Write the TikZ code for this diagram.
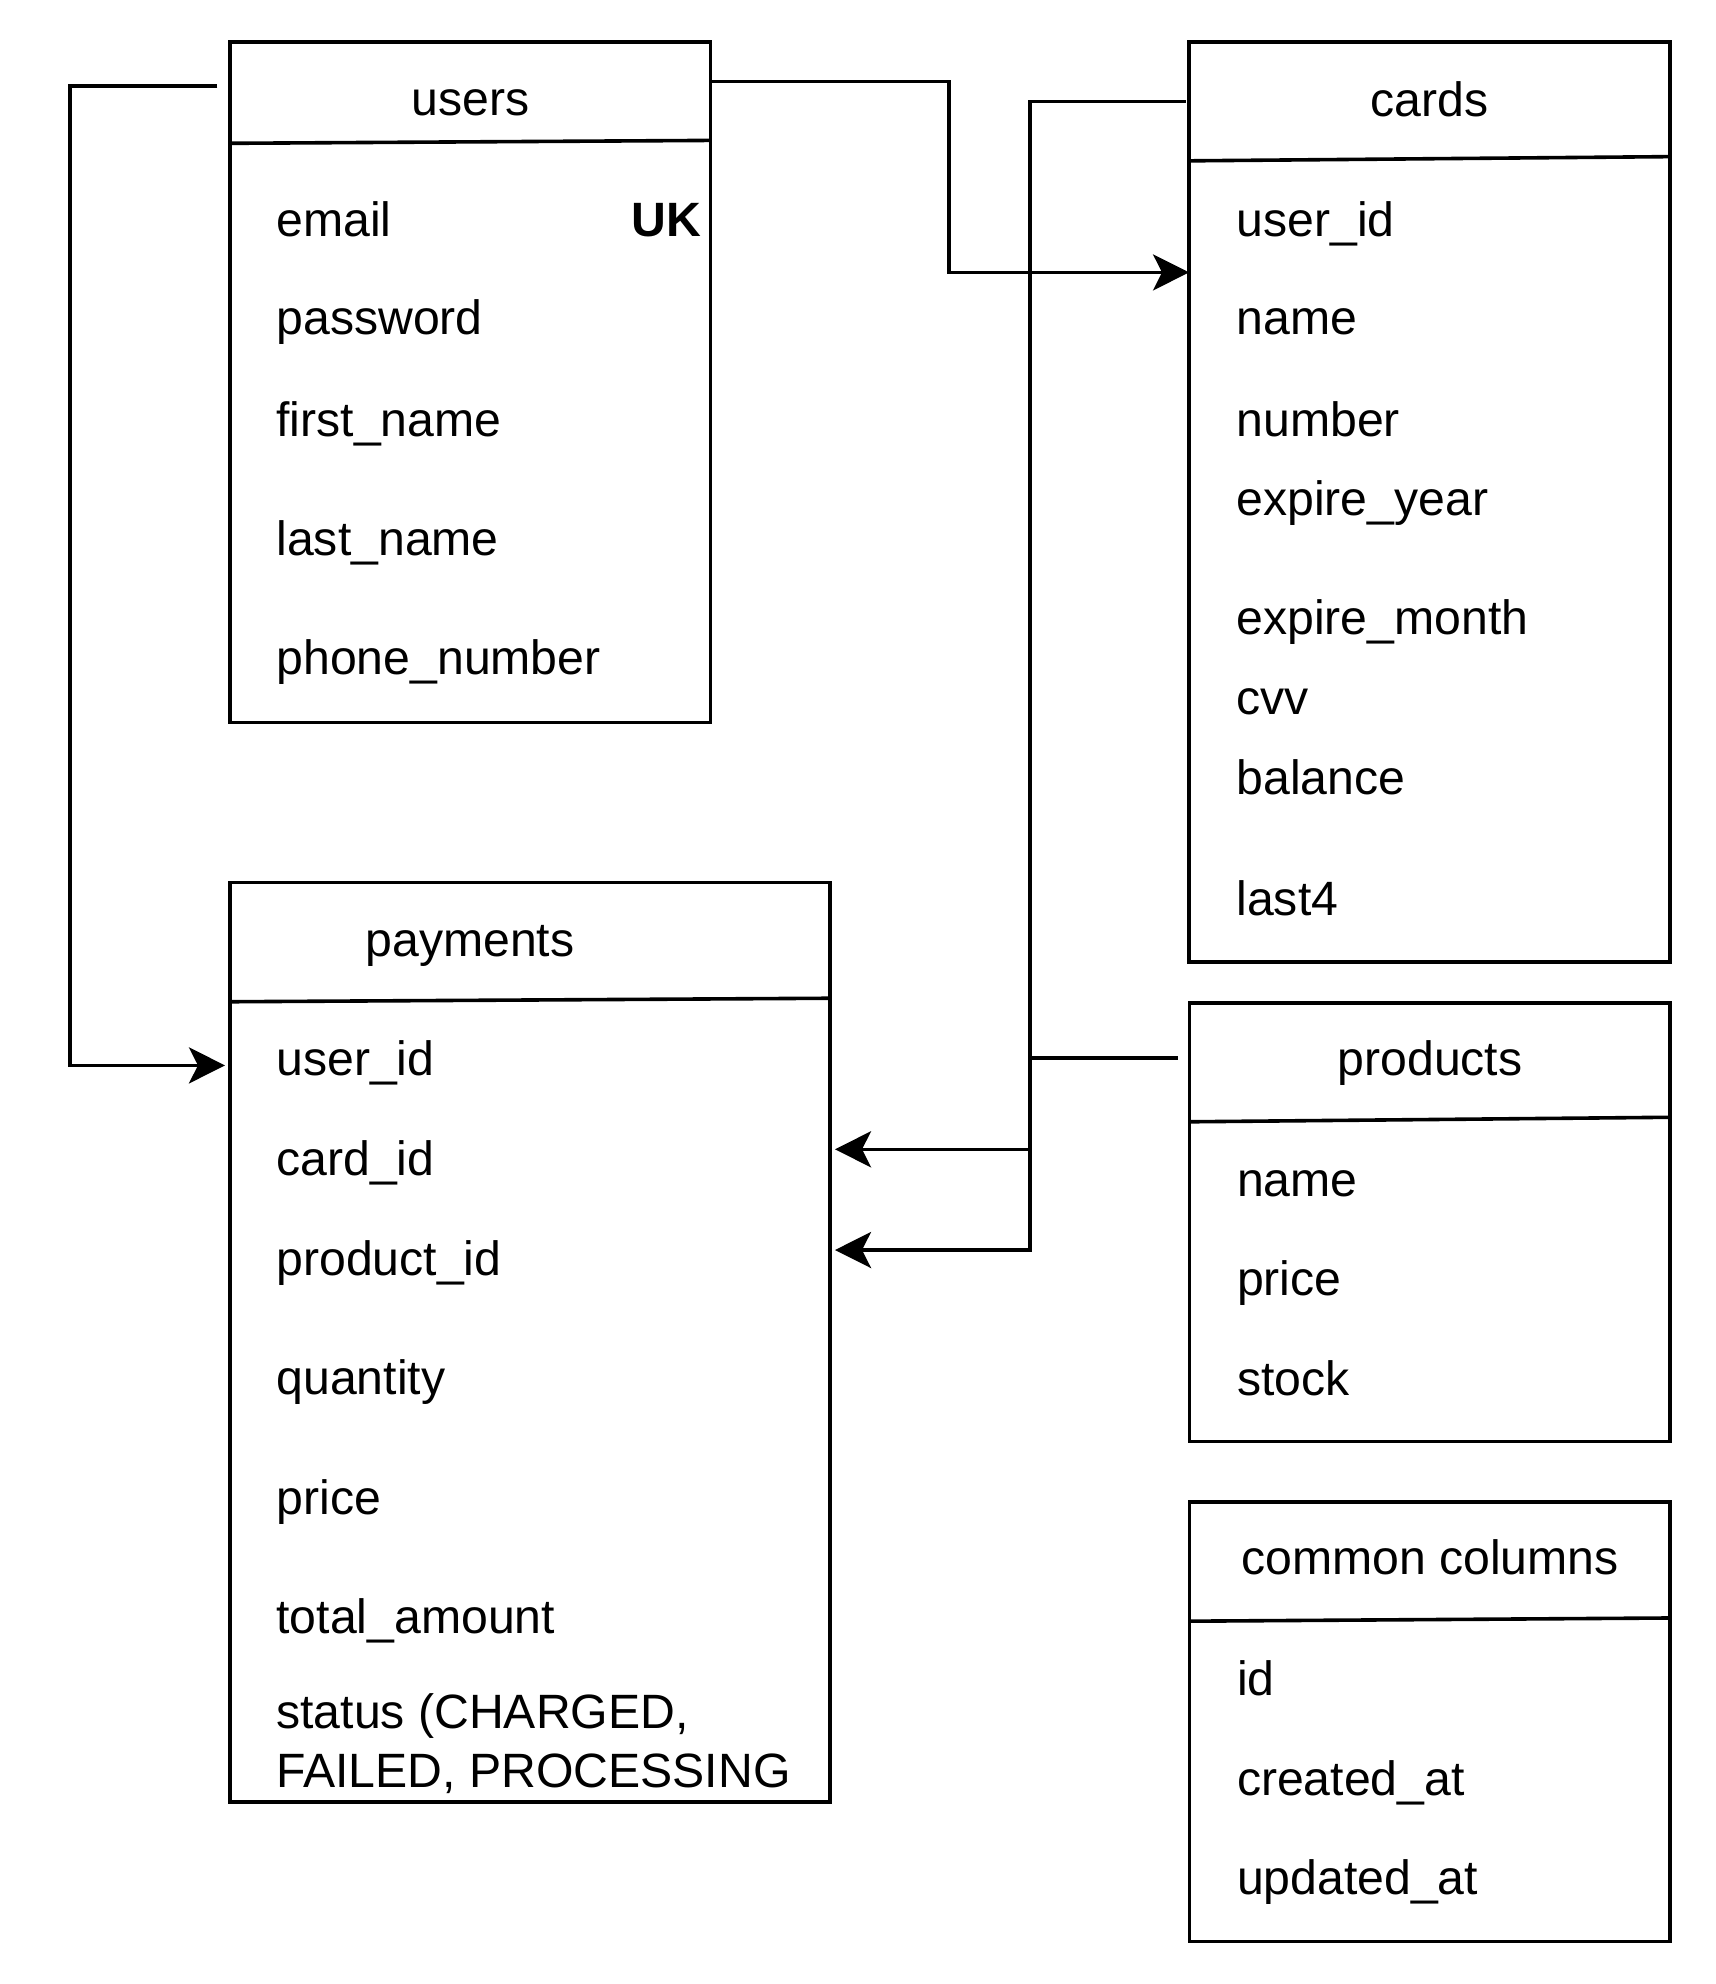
\documentclass[tikz,border=0pt]{standalone}
\usepackage{fontspec}
\setmainfont{Liberation Sans}
\usetikzlibrary{arrows.meta,calc}
\begin{document}
\begin{tikzpicture}[x=0.01cm,y=-0.01cm,
  tbl/.style={draw, rectangle, line width=0.036cm, inner sep=0pt, outer sep=0pt},
  fld/.style={anchor=base west, inner sep=0pt, outer sep=0pt, font=\fontsize{13.7}{16}\selectfont},
  ttl/.style={anchor=base, inner sep=0pt, outer sep=0pt, font=\fontsize{13.7}{16}\selectfont},
  hline/.style={line width=0.036cm},
  conn/.style={line width=0.036cm},
  arr/.style={conn, -{Stealth[length=0.36cm,width=0.36cm,inset=0.09cm]}}]
\useasboundingbox (0,0) rectangle (1716,1984);

% ---------- tables ----------
\node[tbl, minimum width=4.799cm, minimum height=6.800cm] (users) at (470.35,382.2) {};
\node[tbl, minimum width=4.804cm, minimum height=9.196cm] (cards) at (1429.4,501.9) {};
\node[tbl, minimum width=5.994cm, minimum height=9.189cm] (payments) at (530.1,1342.25) {};
\node[tbl, minimum width=4.800cm, minimum height=4.381cm] (products) at (1429.6,1222.15) {};
\node[tbl, minimum width=4.800cm, minimum height=4.393cm] (common) at (1429.6,1721.65) {};

% header separators
\draw[hline] ($(users.north west)+(0,101.3)$) -- ($(users.north east)+(0,98.4)$);
\draw[hline] ($(cards.north west)+(0,119.0)$) -- ($(cards.north east)+(0,114.8)$);
\draw[hline] ($(payments.north west)+(0,119.2)$) -- ($(payments.north east)+(0,115.7)$);
\draw[hline] ($(products.north west)+(0,118.8)$) -- ($(products.north east)+(0,114.3)$);
\draw[hline] ($(common.north west)+(0,119.3)$) -- ($(common.north east)+(0,116.1)$);

% ---------- users ----------
\node[ttl] (tu) at (470.3,115) {users};
\node[fld] (u1) at (276.5,236) {email};
\node[fld, anchor=base east, font=\fontsize{13.7}{16}\selectfont\bfseries] (uk) at (701,236) {UK};
\node[fld] (u2) at (276.5,334.4) {password};
\node[fld] (u3) at (276.5,436) {first\_name};
\node[fld] (u4) at (276.5,555) {last\_name};
\node[fld] (u5) at (276.5,674.7) {phone\_number};

% ---------- cards ----------
\node[ttl] (tc) at (1429.4,116.7) {cards};
\node[fld] (c1) at (1236.5,236) {user\_id};
\node[fld] (c2) at (1236.5,334.8) {name};
\node[fld] (c3) at (1236.5,436.9) {number};
\node[fld] (c4) at (1236.5,515.3) {expire\_year};
\node[fld] (c5) at (1236.5,634.6) {expire\_month};
\node[fld] (c6) at (1236.5,714.3) {cvv};
\node[fld] (c7) at (1236.5,794) {balance};
\node[fld] (c8) at (1236.5,915.2) {last4};

% ---------- payments ----------
\node[ttl] (tp) at (470,956.4) {payments};
\node[fld] (p1) at (276.5,1075.7) {user\_id};
\node[fld] (p2) at (276.5,1175.3) {card\_id};
\node[fld] (p3) at (276.5,1275.6) {product\_id};
\node[fld] (p4) at (276.5,1394.9) {quantity};
\node[fld] (p5) at (276.5,1514) {price};
\node[fld] (p6) at (276.5,1633.4) {total\_amount};
\node[fld] (p7) at (276.5,1728) {status (CHARGED,};
\node[fld] (p8) at (276.5,1787.7) {FAILED, PROCESSING};

% ---------- products ----------
\node[ttl] (tr) at (1430,1075.3) {products};
\node[fld] (r1) at (1237,1196.4) {name};
\node[fld] (r2) at (1237,1295) {price};
\node[fld] (r3) at (1237,1395.4) {stock};

% ---------- common columns ----------
\node[ttl] (tm) at (1430,1574.2) {common columns};
\node[fld] (m1) at (1237,1695.3) {id};
\node[fld] (m2) at (1237,1795.7) {created\_at};
\node[fld] (m3) at (1237,1894.3) {updated\_at};

% ---------- connectors ----------
% users -> cards.user_id
\coordinate (k1) at (949,81.4);
\coordinate (k1b) at (949,272.4);
\draw[arr] (users.east |- k1) -- (k1) -- (k1b) -- (cards.west |- k1b);

% users -> payments.user_id
\coordinate (k2s) at (217.4,86.2);
\coordinate (k2) at (69.7,86.2);
\coordinate (k2b) at (69.7,1065.4);
\coordinate (k2e) at (225,1065.4);
\draw[arr] (k2s) -- (k2) -- (k2b) -- (k2e);

% cards -> payments.card_id
\coordinate (k3s) at (1185.7,101.5);
\coordinate (k3) at (1030,101.5);
\coordinate (k3b) at (1030,1149.3);
\coordinate (k3e) at (835,1149.3);
\draw[arr] (k3s) -- (k3) -- (k3b) -- (k3e);

% products -> payments.product_id
\coordinate (k4s) at (1177.7,1057.7);
\coordinate (k4) at (1030,1057.7);
\coordinate (k4b) at (1030,1250);
\coordinate (k4e) at (835,1250);
\draw[arr] (k4s) -- (k4) -- (k4b) -- (k4e);
\end{tikzpicture}
\end{document}
